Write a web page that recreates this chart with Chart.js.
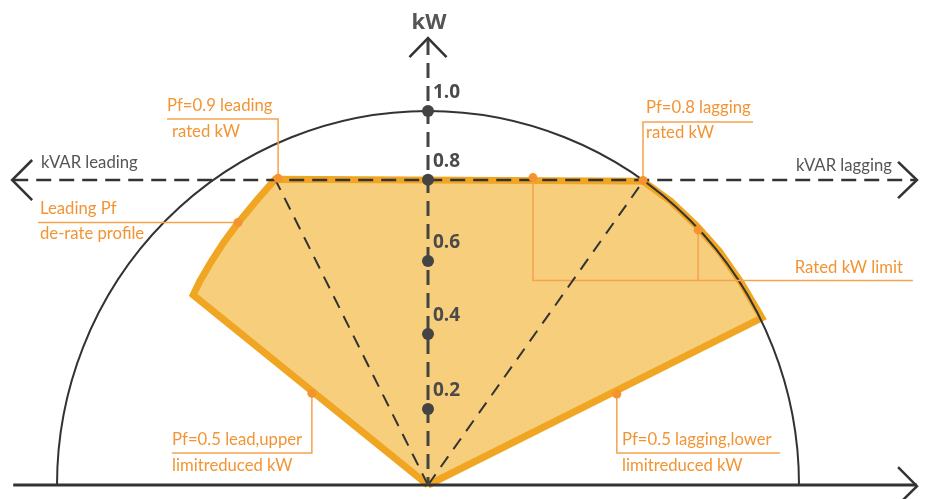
<!DOCTYPE html>
<html>
<head>
<meta charset="utf-8">
<script src="https://cdn.jsdelivr.net/npm/chart.js@4.4.1/dist/chart.umd.min.js"></script>
<style>
  html, body { margin: 0; padding: 0; background: #ffffff; }
  #wrap { width: 925px; height: 499px; position: relative; }
</style>
</head>
<body>
<div id="wrap"><canvas id="c"></canvas></div>
<script>
// ---------- data (kVAR on x, kW on y, per-unit) ----------
const tickLabels    = ['0.2', '0.4', '0.6', '0.8', '1.0'];
const tickPositions = [0.203, 0.404, 0.599, 0.816, 1.0];

// capability region outline (closed)
const capabilityKvar = [0, -0.633, -0.615, -0.585, -0.550, -0.512, -0.461, -0.412, 0.580, 0.655, 0.725, 0.785, 0.845, 0.900, 0];
const capabilityKw   = [0,  0.508,  0.545,  0.596,  0.650,  0.701,  0.762,  0.8175, 0.8125, 0.758, 0.692, 0.625, 0.540, 0.447, 0];

// power-factor lines from origin to rated corners
const pfLeadCorner = { kvar: -0.412, kw: 0.8175 };
const pfLagCorner  = { kvar: 0.580,  kw: 0.8125 };

// callout points on the region
const calloutKvar = [-0.404, -0.512, 0.5795, 0.283, 0.728, -0.313, 0.509];
const calloutKw   = [ 0.820,  0.702, 0.8145, 0.822, 0.682,  0.245, 0.243];

const ratedKw = 0.8155;

// ---------- helpers ----------
const toXY = (xs, ys) => xs.map((x, i) => ({ x: x, y: ys[i] }));

const xMin = -428 / 371, xMax = 497 / 371;
const yMin = -14 / 374,  yMax = 485 / 374;

const DARK = '#444444';
const AXIS = '#333333';
const ORANGE_TXT = '#F39434';
const ORANGE_LN = '#F7A24C';

// annotation leader lines (data units)
const leaders = [
  [[-0.404, 0.820], [-0.404, 0.9786], [-0.7035, 0.9786]],
  [[-0.512, 0.702], [-1.0512, 0.702]],
  [[0.5795, 0.8145], [0.5795, 0.9706], [0.876, 0.9706]],
  [[0.283, 0.822], [0.283, 0.5468], [1.307, 0.5468]],
  [[0.728, 0.682], [0.728, 0.5468]],
  [[-0.313, 0.245], [-0.313, 0.0856], [-0.690, 0.0856]],
  [[0.509, 0.243], [0.509, 0.0856], [0.949, 0.0856]]
];

const orangeTexts = [
  ['Pf=0.9 leading', -0.7035, 1.0, 'left'],
  ['rated kW', -0.690, 0.9305, 'left'],
  ['Leading Pf', -1.0458, 0.7246, 'left'],
  ['de-rate profile', -1.0458, 0.6578, 'left'],
  ['Pf=0.8 lagging', 0.5876, 0.9947, 'left'],
  ['rated kW', 0.5876, 0.9278, 'left'],
  ['Rated kW limit', 1.2803, 0.5668, 'right'],
  ['Pf=0.5 lead,upper', -0.690, 0.107, 'left'],
  ['limitreduced kW', -0.690, 0.0374, 'left'],
  ['Pf=0.5 lagging,lower', 0.5229, 0.107, 'left'],
  ['limitreduced kW', 0.5229, 0.0374, 'left']
];
const grayTexts = [
  ['kVAR leading', -1.0431, 0.8476, 'left'],
  ['kVAR lagging', 0.9919, 0.8396, 'left']
];

const datasets = [];
// y-axis tick dots
datasets.push({
  label: 'ticks', data: tickPositions.map(v => ({ x: 0, y: v })),
  showLine: false, pointRadius: 6, pointBackgroundColor: DARK, pointBorderWidth: 0, order: 0
});
// callout dots
datasets.push({
  label: 'callouts', data: toXY(calloutKvar, calloutKw),
  showLine: false, pointRadius: 4.5, pointBackgroundColor: '#F5932F', pointBorderWidth: 0, order: 1
});
// leader lines
leaders.forEach((l, i) => datasets.push({
  label: 'leader' + i, data: l.map(p => ({ x: p[0], y: p[1] })),
  showLine: true, borderColor: ORANGE_LN, borderWidth: 1.5, pointRadius: 0, fill: false, order: 5
}));
// vertical kW axis (dashed)
datasets.push({
  label: 'kW axis', data: [{ x: 0, y: 1.19 }, { x: 0, y: 0 }],
  showLine: true, borderColor: DARK, borderWidth: 3, borderDash: [15, 8], pointRadius: 0, order: 2
});
// kVAR axis (dashed)
datasets.push({
  label: 'kVAR axis', data: [{ x: -1.118, y: ratedKw }, { x: 1.316, y: ratedKw }],
  showLine: true, borderColor: AXIS, borderWidth: 2.5, borderDash: [15, 8], pointRadius: 0, order: 2
});
// pf lines
datasets.push({
  label: 'pf lead', data: [{ x: 0, y: 0 }, { x: pfLeadCorner.kvar, y: pfLeadCorner.kw }],
  showLine: true, borderColor: AXIS, borderWidth: 2, borderDash: [13, 9], pointRadius: 0, order: 3
});
datasets.push({
  label: 'pf lag', data: [{ x: 0, y: 0 }, { x: pfLagCorner.kvar, y: pfLagCorner.kw }],
  showLine: true, borderColor: AXIS, borderWidth: 2, borderDash: [13, 9], pointRadius: 0, order: 3
});
// bottom axis
datasets.push({
  label: 'base', data: [{ x: -1.118, y: 0 }, { x: 1.318, y: 0 }],
  showLine: true, borderColor: AXIS, borderWidth: 3, pointRadius: 0, order: 2
});
// arrowheads
const arrows = [
  [[-0.05, 1.144], [0, 1.195], [0.05, 1.144]],
  [[-1.067, 0.869], [-1.121, 0.8155], [-1.067, 0.762]],
  [[1.267, 0.864], [1.318, 0.8155], [1.267, 0.767]],
  [[1.267, 0.048], [1.318, -0.003], [1.267, -0.053]]
];
arrows.forEach((a, i) => datasets.push({
  label: 'arrow' + i, data: a.map(p => ({ x: p[0], y: p[1] })),
  showLine: true, borderColor: AXIS, borderWidth: 2.5, pointRadius: 0, order: 2,
  borderJoinStyle: 'miter'
}));
// capability region
datasets.push({
  label: 'region', data: toXY(capabilityKvar, capabilityKw),
  showLine: true, fill: 'shape', backgroundColor: '#F6CE7C', borderColor: '#F0A623',
  borderWidth: 7, borderJoinStyle: 'miter', pointRadius: 0, tension: 0, order: 10
});

const circlePlugin = {
  id: 'circle',
  afterDatasetDraw(chart, args) {
    if (chart.data.datasets[args.index].label !== 'region') return;
    const ctx = chart.ctx, xs = chart.scales.x, ys = chart.scales.y;
    const cx = xs.getPixelForValue(0), cy = ys.getPixelForValue(0);
    const rx = xs.getPixelForValue(1) - cx, ry = cy - ys.getPixelForValue(1);
    ctx.save();
    ctx.beginPath();
    ctx.ellipse(cx, cy, rx, ry, 0, Math.PI, 2 * Math.PI);
    ctx.strokeStyle = '#333333';
    ctx.lineWidth = 2;
    ctx.stroke();
    ctx.restore();
  }
};

const textPlugin = {
  id: 'texts',
  afterDraw(chart) {
    const ctx = chart.ctx, xs = chart.scales.x, ys = chart.scales.y;
    ctx.save();
    ctx.textBaseline = 'alphabetic';
    ctx.font = '16.7px Lato, "Open Sans", sans-serif';
    ctx.fillStyle = ORANGE_TXT;
    orangeTexts.forEach(t => {
      ctx.textAlign = t[3];
      ctx.fillText(t[0], xs.getPixelForValue(t[1]), ys.getPixelForValue(t[2]));
    });
    ctx.fillStyle = '#555555';
    grayTexts.forEach(t => {
      ctx.textAlign = t[3];
      ctx.fillText(t[0], xs.getPixelForValue(t[1]), ys.getPixelForValue(t[2]));
    });
    // kW title
    ctx.font = 'bold 22px "Open Sans", sans-serif';
    ctx.textAlign = 'center';
    ctx.fillStyle = '#555555';
    ctx.fillText('kW', xs.getPixelForValue(0.0027), ys.getPixelForValue(1.2193));
    // tick labels
    ctx.font = 'bold 19px "Open Sans", sans-serif';
    ctx.textAlign = 'left';
    ctx.fillStyle = '#4a4a4a';
    tickLabels.forEach((lab, i) => {
      ctx.fillText(lab, xs.getPixelForValue(0) + 5, ys.getPixelForValue(tickPositions[i]) - 13);
    });
    ctx.restore();
  }
};

new Chart(document.getElementById('c'), {
  type: 'scatter',
  data: { datasets: datasets },
  options: {
    responsive: true,
    maintainAspectRatio: false,
    animation: false,
    layout: { padding: 0, autoPadding: false },
    plugins: { legend: { display: false }, tooltip: { enabled: false } },
    scales: {
      x: { type: 'linear', min: xMin, max: xMax, display: false },
      y: { type: 'linear', min: yMin, max: yMax, display: false }
    }
  },
  plugins: [circlePlugin, textPlugin]
});
</script>
</body>
</html>
